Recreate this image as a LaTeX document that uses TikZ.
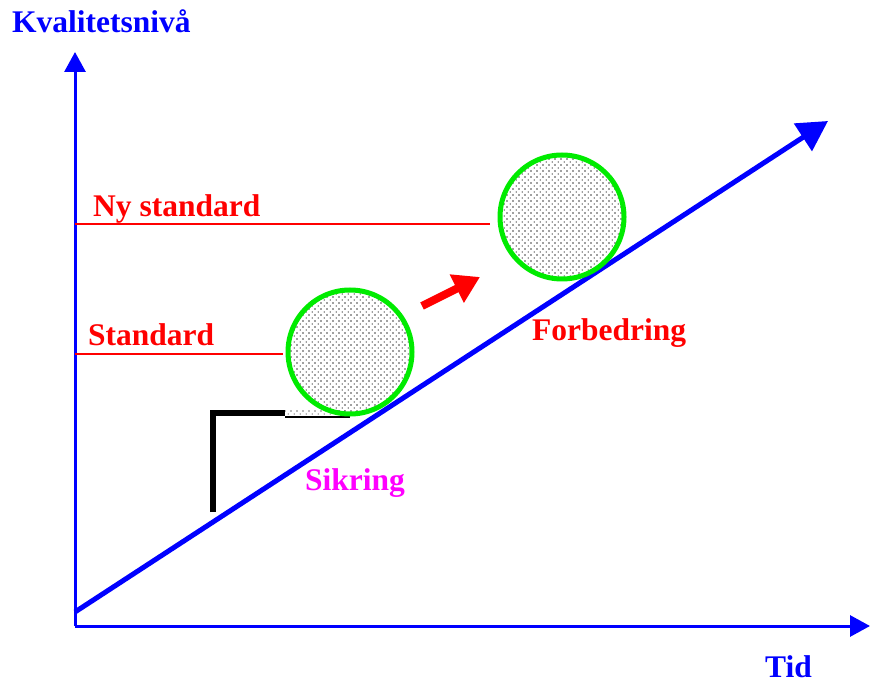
\documentclass[tikz,border=0pt]{standalone}
\usepackage{fontspec}
\setmainfont{Liberation Serif}
\usetikzlibrary{arrows.meta,patterns.meta}
\definecolor{myblue}{RGB}{0,0,255}
\definecolor{myred}{RGB}{255,0,0}
\definecolor{mygreen}{RGB}{0,235,0}
\definecolor{mymag}{RGB}{255,0,255}
\tikzdeclarepattern{
  name=balldots,
  type=uncolored,
  bottom left={(-.1pt,-.1pt)},
  top right={(6pt,6pt)},
  tile size={(6pt,6pt)},
  code={
    \fill (0pt,0pt) circle (0.9pt);
    \fill (3pt,3pt) circle (0.9pt);
  }
}
\tikzset{
  lbl/.style={font=\fontsize{31.5}{36}\selectfont\bfseries, inner sep=0pt, anchor=base west},
  axis/.style={myblue, line width=3pt, -{Triangle[length=20pt,width=21pt]}},
  guide/.style={myred, line width=1.3pt},
  ball/.style={circle, draw=mygreen, line width=5pt, minimum size=124pt, inner sep=0pt,
    pattern=balldots, pattern color=black!75},
}
\begin{document}
\begin{tikzpicture}[x=1pt,y=-1pt]
\useasboundingbox (0,0) rectangle (870,684);
% axes
\coordinate (O) at (75,626);
\coordinate (ytip) at (75,52);
\coordinate (xtip) at (870,626);
\draw[axis] (O) -- (ytip);
\draw[axis] (O) -- (xtip);
\node[lbl, text=myblue] (ylab) at (12,33) {Kvalitetsnivå};
\node[lbl, text=myblue] (xlab) at (765,677) {Tid};
% guide lines
\coordinate (g1a) at (75,224); \coordinate (g1b) at (490,224);
\coordinate (g2a) at (75,354); \coordinate (g2b) at (283,354);
\draw[guide] (g1a) -- (g1b);
\draw[guide] (g2a) -- (g2b);
\node[lbl, text=myred] (nystd) at (93,217) {Ny standard};
\node[lbl, text=myred] (std) at (88,346) {Standard};
% trend line
\coordinate (t0) at (75,612);
\coordinate (t1) at (828,121);
\draw[myblue, line width=5pt, -{Triangle[length=30pt,width=32pt]}] (t0) -- (t1);
\node[lbl, text=myred] (forb) at (532,341) {Forbedring};
\node[lbl, text=mymag] (sik) at (305,490) {Sikring};
% stopper
\coordinate (s1) at (213,512);
\coordinate (s2) at (213,413);
\coordinate (s3) at (285,413);
\coordinate (s4) at (350,417);
\coordinate (s5) at (285,417);
\fill[pattern=balldots, pattern color=black!55] (285,409) rectangle (345,415);
\draw[black, line width=1.2pt] (s5) -- (s4);
\draw[black, line width=6pt, miter limit=10] (s1) -- (s2) -- (s3);
% balls
\node[ball] (b1) at (350,352) {};
\node[ball] (b2) at (562,217) {};
% red arrow
\coordinate (r0) at (422,306);
\coordinate (r1) at (480,277);
\draw[myred, line width=8pt, -{Triangle[length=26pt,width=30pt]}] (r0) -- (r1);
\end{tikzpicture}
\end{document}
